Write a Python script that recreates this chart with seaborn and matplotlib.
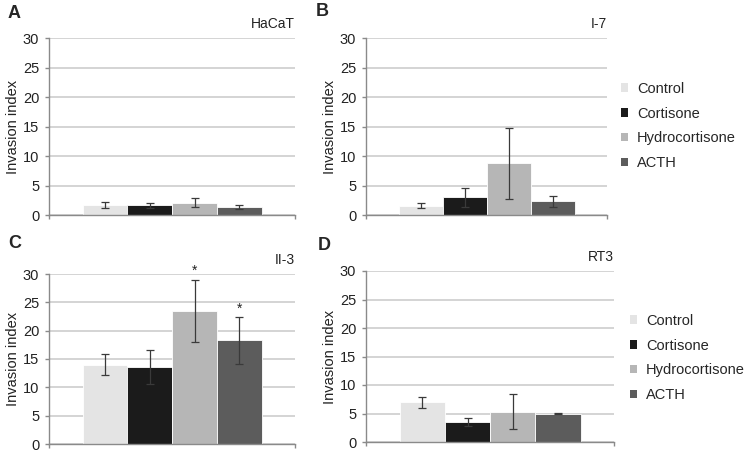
import pandas as pd
import matplotlib.pyplot as plt
import seaborn as sns
from matplotlib.patches import Patch

# Invasion index per cell line (mean and error)
treatments = ["Control", "Cortisone", "Hydrocortisone", "ACTH"]
bar_colors = ["#e4e4e4", "#1b1b1b", "#b6b6b6", "#5c5c5c"]

hacat_mean = [1.75, 1.65, 2.1, 1.4]
hacat_err = [0.5, 0.4, 0.75, 0.3]
i7_mean = [1.6, 3.0, 8.75, 2.3]
i7_err = [0.35, 1.6, 6.0, 0.9]
ii3_mean = [14.0, 13.6, 23.5, 18.3]
ii3_err = [1.9, 3.0, 5.45, 4.1]
rt3_mean = [6.95, 3.5, 5.35, 5.0]
rt3_err = [1.0, 0.7, 3.0, 0.05]
ii3_sig = ["", "", "*", "*"]

panels = [
    ("A", "HaCaT", hacat_mean, hacat_err, None),
    ("B", "I-7", i7_mean, i7_err, None),
    ("C", "II-3", ii3_mean, ii3_err, ii3_sig),
    ("D", "RT3", rt3_mean, rt3_err, None),
]

sns.set_style("white")
plt.rcParams["font.family"] = ["Liberation Sans", "DejaVu Sans"]

fig = plt.figure(figsize=(7.44, 4.51), dpi=100)
W, H = 744, 451
# axes boxes in pixels: left, top, right, bottom
boxes = [(49, 38, 295, 215), (366, 38, 607, 215), (49, 274, 295, 444), (366, 271, 614, 442)]
letter_pos = [(8, 13), (316, 12), (8, 243), (318, 246)]

axes = []
for (letter, name, mean, err, sig), (l, t, r, b), (lx, ly) in zip(panels, boxes, letter_pos):
    ax = fig.add_axes([l / W, 1 - b / H, (r - l) / W, (b - t) / H])
    df = pd.DataFrame({"treatment": treatments, "mean": mean, "err": err})
    sns.barplot(data=df, x="treatment", y="mean", hue="treatment", palette=bar_colors,
                width=1.0, edgecolor="white", linewidth=0.6, legend=False, ax=ax)
    ax.errorbar(range(len(treatments)), df["mean"], yerr=df["err"], fmt="none",
                ecolor="#3a3a3a", elinewidth=0.9, capsize=3, capthick=0.9, zorder=5)
    if sig is not None:
        for i, s in enumerate(sig):
            if s:
                ax.text(i, mean[i] + err[i] + 0.3, s, ha="center", va="bottom",
                        fontsize=10, color="#222222")
    ax.set_ylim(0, 30)
    ax.set_yticks(range(0, 31, 5))
    ax.set_xlim(-1.25, 4.24)
    ax.set_xticks([-1.25, 4.24])
    ax.set_xticklabels([])
    ax.set_xlabel("")
    ax.set_ylabel("Invasion index", fontsize=10.5, color="#222222", labelpad=2)
    ax.yaxis.grid(True, color="#c9c9c9", linewidth=1.1)
    ax.set_axisbelow(True)
    for side in ["top", "right"]:
        ax.spines[side].set_visible(False)
    for side in ["left", "bottom"]:
        ax.spines[side].set_color("#8a8a8a")
        ax.spines[side].set_linewidth(1.0)
    ax.tick_params(axis="y", direction="out", length=3, width=1, color="#8a8a8a",
                   labelsize=10.5, labelcolor="#222222", pad=4, left=True)
    ax.tick_params(axis="x", direction="out", length=3, width=1, color="#8a8a8a", bottom=True)
    ax.set_title(name, loc="right", fontsize=10, color="#222222", pad=7)
    fig.text(lx / W, 1 - ly / H, letter, fontsize=13, fontweight="bold", va="center", ha="left")
    axes.append(ax)

handles = [Patch(facecolor=c, edgecolor="none") for c in bar_colors]
for (lx, cy) in [(621, 126), (630, 358)]:
    fig.legend(handles, treatments, loc="center left", bbox_to_anchor=(lx / W, 1 - cy / H),
               frameon=False, fontsize=10.5, handlelength=0.5, handleheight=0.5,
               handletextpad=0.6, labelspacing=0.75, borderaxespad=0, borderpad=0)

plt.savefig("out.png", dpi=100)
